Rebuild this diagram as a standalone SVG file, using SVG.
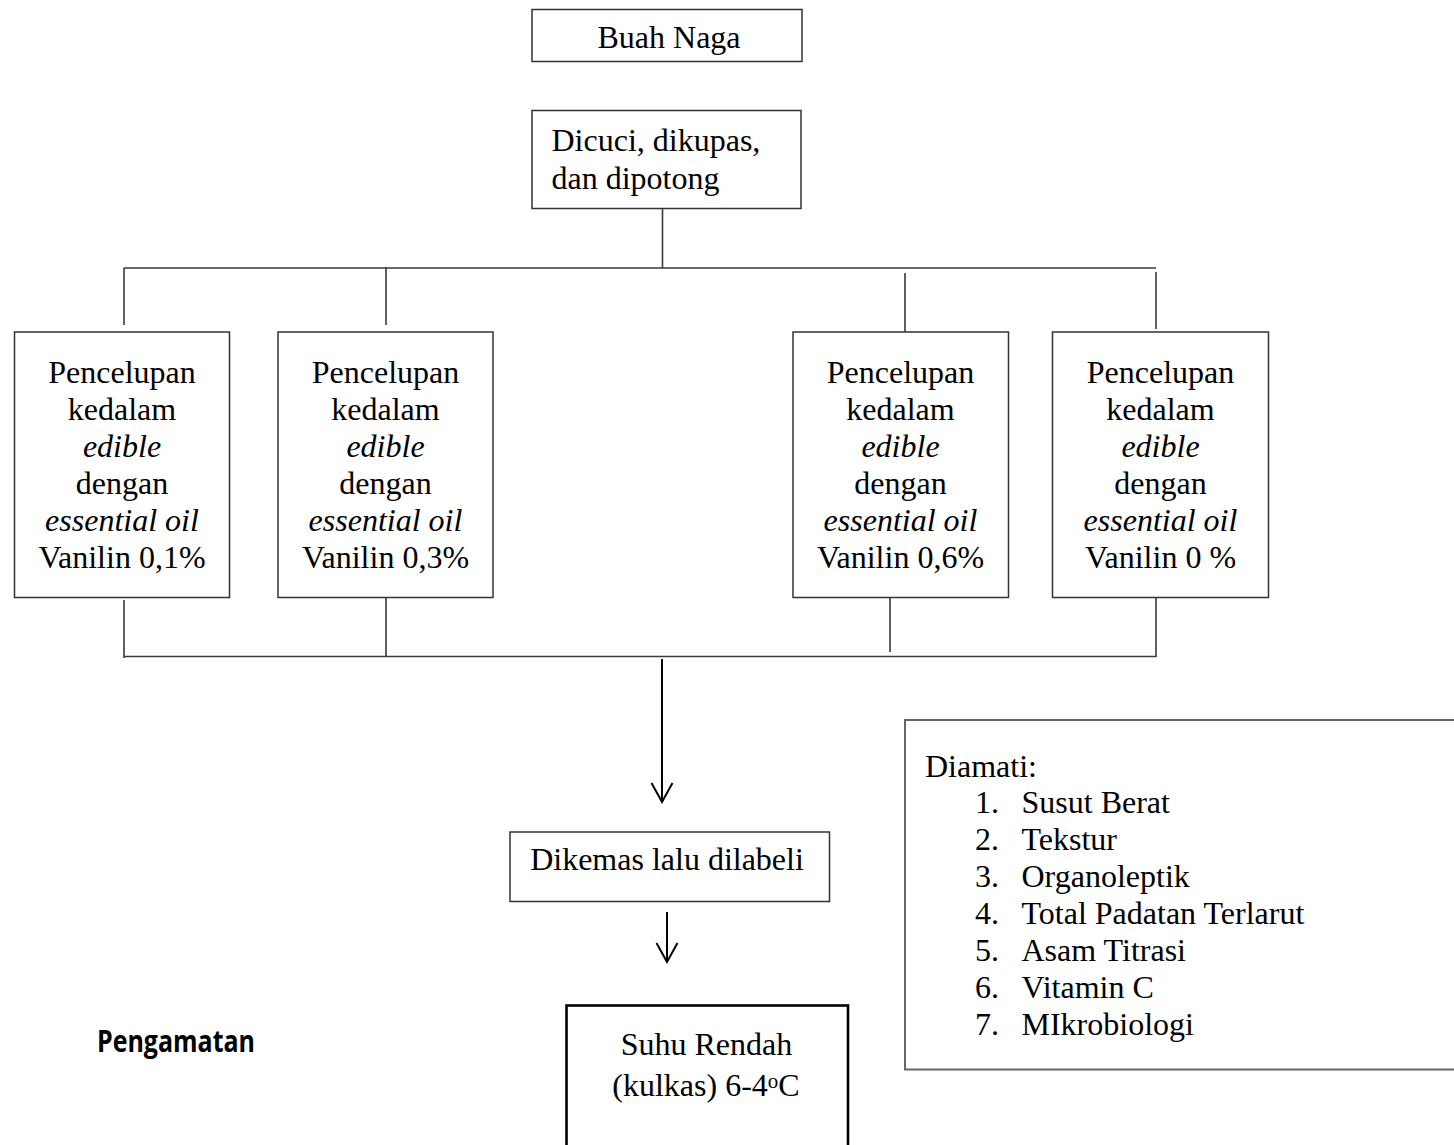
<svg xmlns="http://www.w3.org/2000/svg" width="1454" height="1145" viewBox="0 0 1454 1145">
<style>
.bg{fill:#fff}
.box{fill:#fff;stroke:#333;stroke-width:1.5}
.t{font-family:"Liberation Serif","Times New Roman",serif;font-size:32px;fill:#000}
.c{text-anchor:middle}
.i{font-style:italic}
.ln{stroke:#3a3a3a;stroke-width:1.6;fill:none}
.arr{stroke:#000;stroke-width:2;fill:none}
</style>
<defs>
<marker id="vhead" viewBox="-21 -12 23 24" refX="0" refY="0" markerWidth="23" markerHeight="24" markerUnits="userSpaceOnUse" orient="auto" overflow="visible">
<path d="M-19,-10.5 L0,0 L-19,10.5" fill="none" stroke="#000" stroke-width="2"/>
</marker>
</defs>
<rect class="bg" x="0" y="0" width="1454" height="1145"/>

<g id="connectors">
<path class="ln" d="M662.5 209 V268"/>
<path class="ln" d="M124 268 H1156"/>
<path class="ln" d="M124 268 V325 M386 267 V325 M905 273 V332 M1156 272 V329"/>
<path class="ln" d="M124 600 V658 M386 598 V657 M890 593 V652 M1156 598 V657"/>
<path class="ln" d="M124 656.5 H1156"/>
<path class="arr" d="M662 659 V802" marker-end="url(#vhead)"/>
<path class="arr" d="M667 912 V962" marker-end="url(#vhead)"/>
</g>

<g id="buah-naga">
<rect class="box" x="532" y="9.5" width="270" height="52"/>
<text class="t c" x="669" y="48">Buah Naga</text>
</g>

<g id="dicuci">
<rect class="box" x="532" y="110.5" width="269" height="98"/>
<text class="t" x="551.5" y="151">Dicuci, dikupas,</text>
<text class="t" x="551.5" y="189">dan dipotong</text>
</g>

<g id="vanilin-01">
<rect class="box" x="14.5" y="332" width="215" height="265.5"/>
<text class="t c" x="122" y="383">Pencelupan</text>
<text class="t c" x="122" y="420">kedalam</text>
<text class="t c i" x="122" y="457">edible</text>
<text class="t c" x="122" y="494">dengan</text>
<text class="t c i" x="122" y="531">essential oil</text>
<text class="t c" x="122" y="568">Vanilin 0,1%</text>
</g>

<g id="vanilin-03">
<rect class="box" x="278" y="332" width="215" height="265.5"/>
<text class="t c" x="385.5" y="383">Pencelupan</text>
<text class="t c" x="385.5" y="420">kedalam</text>
<text class="t c i" x="385.5" y="457">edible</text>
<text class="t c" x="385.5" y="494">dengan</text>
<text class="t c i" x="385.5" y="531">essential oil</text>
<text class="t c" x="385.5" y="568">Vanilin 0,3%</text>
</g>

<g id="vanilin-06">
<rect class="box" x="793" y="332" width="215.5" height="265.5"/>
<text class="t c" x="900.5" y="383">Pencelupan</text>
<text class="t c" x="900.5" y="420">kedalam</text>
<text class="t c i" x="900.5" y="457">edible</text>
<text class="t c" x="900.5" y="494">dengan</text>
<text class="t c i" x="900.5" y="531">essential oil</text>
<text class="t c" x="900.5" y="568">Vanilin 0,6%</text>
</g>

<g id="vanilin-0">
<rect class="box" x="1052.5" y="332" width="216" height="265.5"/>
<text class="t c" x="1160.5" y="383">Pencelupan</text>
<text class="t c" x="1160.5" y="420">kedalam</text>
<text class="t c i" x="1160.5" y="457">edible</text>
<text class="t c" x="1160.5" y="494">dengan</text>
<text class="t c i" x="1160.5" y="531">essential oil</text>
<text class="t c" x="1160.5" y="568">Vanilin 0 %</text>
</g>

<g id="dikemas">
<rect class="box" x="510" y="832" width="319.5" height="69.5"/>
<text class="t c" x="667" y="870">Dikemas lalu dilabeli</text>
</g>

<g id="suhu-rendah">
<rect x="566.5" y="1005.5" width="281.5" height="150" fill="#fff" stroke="#000" stroke-width="2.6"/>
<text class="t c" x="706.5" y="1055">Suhu Rendah</text>
<text class="t c" x="706" y="1096">(kulkas) 6-4<tspan font-size="21" dy="-8">o</tspan><tspan dy="8">C</tspan></text>
</g>

<g id="diamati">
<rect x="905" y="720" width="570" height="349.5" fill="#fff" stroke="#666" stroke-width="2"/>
<text class="t" x="925" y="776.5">Diamati:</text>
<text class="t" x="975" y="813">1.</text><text class="t" x="1021.5" y="813">Susut Berat</text>
<text class="t" x="975" y="850">2.</text><text class="t" x="1021.5" y="850">Tekstur</text>
<text class="t" x="975" y="887">3.</text><text class="t" x="1021.5" y="887">Organoleptik</text>
<text class="t" x="975" y="924">4.</text><text class="t" x="1021.5" y="924">Total Padatan Terlarut</text>
<text class="t" x="975" y="961">5.</text><text class="t" x="1021.5" y="961">Asam Titrasi</text>
<text class="t" x="975" y="998">6.</text><text class="t" x="1021.5" y="998">Vitamin C</text>
<text class="t" x="975" y="1035">7.</text><text class="t" x="1021.5" y="1035">MIkrobiologi</text>
</g>

<g id="pengamatan">
<text x="97" y="1052" font-family="'Open Sans','Liberation Sans',sans-serif" font-weight="bold" font-size="29.5" textLength="158" lengthAdjust="spacingAndGlyphs" fill="#000">Pengamatan</text>
</g>
</svg>
